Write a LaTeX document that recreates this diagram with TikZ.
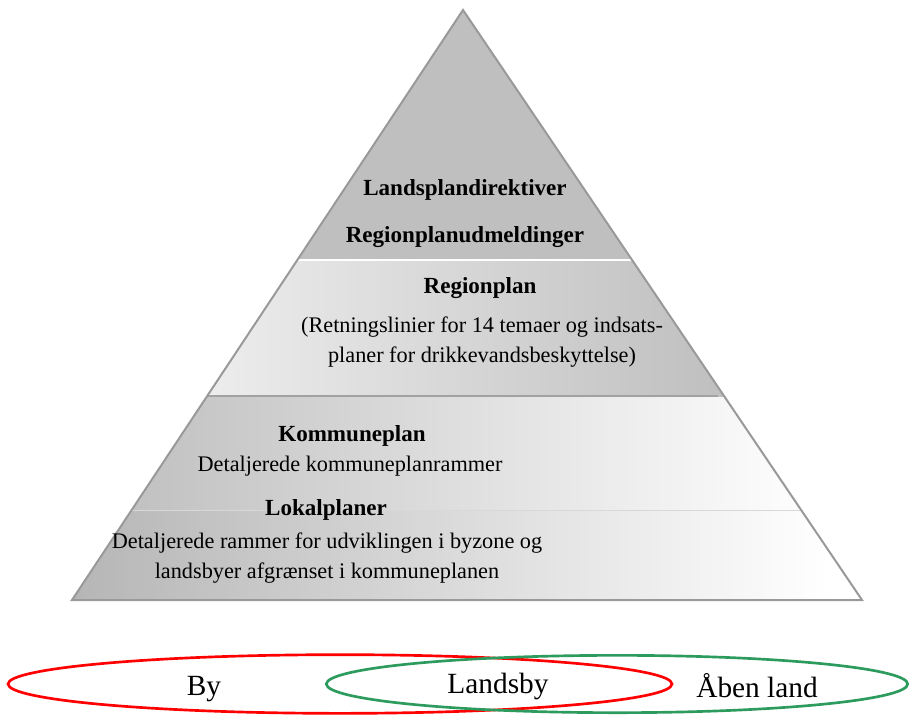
\documentclass[tikz,border=0pt]{standalone}
\usepackage{fontspec}
\setmainfont{Liberation Serif}
\usetikzlibrary{shapes.geometric}
\definecolor{pyrgray}{HTML}{BFBFBF}
\definecolor{pyrlight}{HTML}{EDEDED}
\definecolor{pyredge}{HTML}{999999}
\definecolor{zonegreen}{HTML}{2E9B5E}
\tikzset{
  head/.style={font=\fontsize{17.3}{20}\selectfont\bfseries, inner sep=1pt},
  body/.style={font=\fontsize{16.7}{22}\selectfont, align=center, inner sep=1pt},
  zone/.style={ellipse, draw=#1, line width=2pt, inner sep=0pt},
  zonelbl/.style={font=\fontsize{22}{24}\selectfont, inner sep=1pt},
}

\begin{document}
\begin{tikzpicture}[x=0.75pt, y=-0.75pt]
  \useasboundingbox (0,0) rectangle (909,715);
  %% Pyramid
  \coordinate (apex) at (463,10);
  \coordinate (bl)   at (72,600);
  \coordinate (br)   at (862,600);
  \begin{scope}
    \clip (apex) -- (br) -- (bl) -- cycle;
    \fill[pyrgray] (60,0) rectangle (870,260);
    \shade[left color=pyrlight, right color=pyrgray] (205,260) rectangle (725,397);
    \shade[left color=pyrgray, right color=white] (110,397) rectangle (820,510);
    \shade[left color=pyrgray!95!black, right color=white] (72,510) rectangle (830,600);
    \draw[white, line width=0.8pt] (60,260) -- (870,260);
    \draw[pyrgray!85!black, line width=0.8pt] (205,396) -- (718,396);
    \draw[pyrgray!60, line width=0.5pt] (60,510) -- (870,510);
  \end{scope}
  \draw[pyredge, line width=1.5pt] (apex) -- (br) -- (bl) -- cycle;
  %% Tier labels
  \node[head] (lpd) at (465,190) {Landsplandirektiver};
  \node[head] (rpu) at (465,237) {Regionplanudmeldinger};
  \node[head] (rp)  at (480,288) {Regionplan};
  \node[body] (rptxt) at (482,342)
    {(Retningslinier for 14 temaer og indsats-\\planer for drikkevandsbeskyttelse)};
  \node[head] (kp)  at (352,436) {Kommuneplan};
  \node[body] (kptxt) at (350,466) {Detaljerede kommuneplanrammer};
  \node[head] (lp)  at (326,510) {Lokalplaner};
  \node[body] (lptxt) at (327,558)
    {Detaljerede rammer for udviklingen i byzone og\\landsbyer afgrænset i kommuneplanen};
  %% Zones
  \node[zone=red, minimum width=498pt, minimum height=44pt] (byzone) at (340,684) {};
  \node[zone=zonegreen, minimum width=436pt, minimum height=43pt] (landzone) at (617,684) {};
  \node[zonelbl] (by)      at (204,689) {By};
  \node[zonelbl] (landsby) at (498,686) {Landsby};
  \node[zonelbl] (aaben)   at (757,686) {Åben land};
\end{tikzpicture}
\end{document}
